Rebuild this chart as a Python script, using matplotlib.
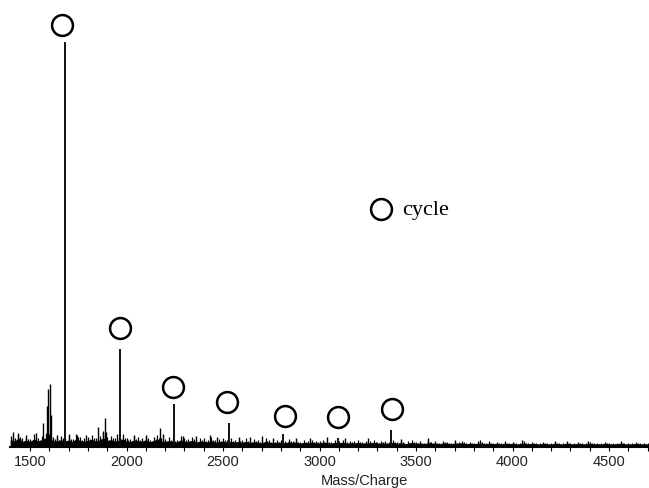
import numpy as np
import matplotlib
matplotlib.use("Agg")
import matplotlib.pyplot as plt

# cycle series peaks (m/z, relative intensity)
cycle_mz = [1683, 1965, 2246, 2531, 2812, 3095, 3369]
cycle_int = [100.0, 24.3, 10.7, 6.0, 3.2, 2.2, 4.2]

# circle markers placed above each cycle peak
marker_mz = [1666, 1966, 2241, 2521, 2821, 3096, 3376]
marker_y = [104.2, 29.5, 14.9, 11.2, 7.7, 7.4, 9.4]

# other (non-labelled) peaks
other_mz = [1412, 1440, 1480, 1530, 1567, 1590, 1595, 1604, 1608, 1640, 1700,
            1745, 1790, 1853, 1877, 1889, 1895, 1950, 2040, 2100, 2174, 2190,
            2290, 2360, 2430, 2470, 2580, 2640, 2700, 2760, 2880, 2950, 3040,
            3130, 3250, 3420, 3560, 3700, 3830, 4050, 4220, 4390, 4560]
other_int = [3.6, 3.2, 3.0, 3.4, 6.0, 10.0, 14.4, 15.6, 8.0, 3.0, 3.2,
             3.0, 2.9, 5.0, 4.0, 7.2, 3.8, 3.3, 3.0, 2.9, 4.7, 3.1,
             2.8, 2.7, 2.9, 2.5, 2.4, 2.5, 2.6, 2.3, 2.3, 2.2, 2.4,
             2.1, 2.2, 2.0, 2.1, 1.8, 1.7, 1.7, 1.6, 1.6, 1.6]

# baseline noise level, every 20 m/z from 1400 to 4700
noise_mz = np.arange(1400, 4701, 20)
noise_int = [
    2.8, 2.2, 3.4, 2.1, 2.5, 2.0, 3.1, 2.2, 2.7, 3.5,
    3.1, 2.5, 2.2, 2.8, 2.1, 2.7, 2.0, 3.2, 2.4, 2.1,
    2.5, 2.9, 2.2, 2.7, 3.4, 2.4, 2.8, 2.1, 2.5, 3.1,
    2.2, 2.0, 2.7, 2.4, 2.1, 2.8, 1.8, 2.5, 2.9, 2.2,
    2.0, 2.4, 2.1, 1.8, 2.7, 2.2, 2.0, 2.5, 1.7, 2.2,
    2.1, 1.8, 2.4, 1.7, 2.0, 2.2, 1.7, 2.1, 1.8, 2.0,
    1.7, 2.1, 1.5, 2.0, 1.8, 1.4, 2.1, 1.7, 1.5, 1.8,
    1.7, 1.4, 2.0, 1.5, 1.8, 1.3, 1.7, 1.4, 1.8, 1.5,
    1.4, 1.8, 1.5, 1.3, 1.7, 1.4, 1.8, 1.3, 1.5, 1.4,
    1.7, 1.3, 1.5, 1.4, 1.8, 1.3, 1.5, 1.4, 1.3, 1.7,
    1.3, 1.5, 1.1, 1.4, 1.7, 1.3, 1.4, 1.1, 1.5, 1.3,
    1.4, 1.1, 1.5, 1.3, 1.1, 1.4, 1.3, 1.5, 1.1, 1.3,
    1.1, 1.4, 1.3, 1.0, 1.4, 1.1, 1.3, 1.0, 1.4, 1.1,
    1.3, 1.0, 1.1, 1.4, 1.0, 1.3, 1.1, 1.0, 1.3, 1.1,
    1.0, 1.3, 1.1, 1.0, 1.4, 1.1, 1.0, 1.3, 1.0, 1.1,
    1.3, 1.0, 1.1, 1.0, 1.3, 1.1, 1.0, 1.1, 1.3, 1.0,
    1.1, 1.0, 1.3, 1.0, 1.1, 1.0,
]

fig = plt.figure(figsize=(6.49, 4.89), dpi=100)
ax = fig.add_axes([10 / 649, 41 / 489, 639 / 649, 448 / 489])

# noise band + spikes
ax.fill_between(noise_mz, 0, np.array(noise_int) * 0.6, color="black", linewidth=0.8)
ax.vlines(noise_mz, 0, noise_int, color="black", linewidth=0.9)
ax.vlines(noise_mz + 10, 0, np.array(noise_int) * 0.75, color="black", linewidth=0.9)
ax.vlines(other_mz, 0, other_int, color="black", linewidth=1.0)
ax.vlines(cycle_mz, 0, cycle_int, color="#111111", linewidth=1.4)

ax.plot(marker_mz, marker_y, "o", ms=15, mfc="white", mec="black", mew=1.8,
        linestyle="none", clip_on=False)

# legend
ax.plot([3319], [58.8], "o", ms=15, mfc="white", mec="black", mew=1.8)
ax.text(3427, 58.6, "cycle", fontsize=16, family="Liberation Serif",
        va="center", ha="left")

ax.set_xlim(1396, 4707)
ax.set_ylim(0, 110.6)
ax.set_xticks([1500, 2000, 2500, 3000, 3500, 4000, 4500])
ax.set_xticks(np.arange(1500, 4701, 100), minor=True)
ax.tick_params(axis="x", which="both", direction="out", length=3, width=0.8,
               labelsize=10.5, labelcolor="#222222", pad=2)
for lab in ax.get_xticklabels():
    lab.set_family("Liberation Sans")
ax.set_yticks([])
for s in ["left", "top", "right"]:
    ax.spines[s].set_visible(False)
ax.spines["bottom"].set_linewidth(1.5)

fig.text(364 / 649, 1 - 481 / 489, "Mass/Charge", fontsize=10.5,
         family="Liberation Sans", color="#222222", ha="center", va="center")

fig.savefig("out.png", dpi=100)
